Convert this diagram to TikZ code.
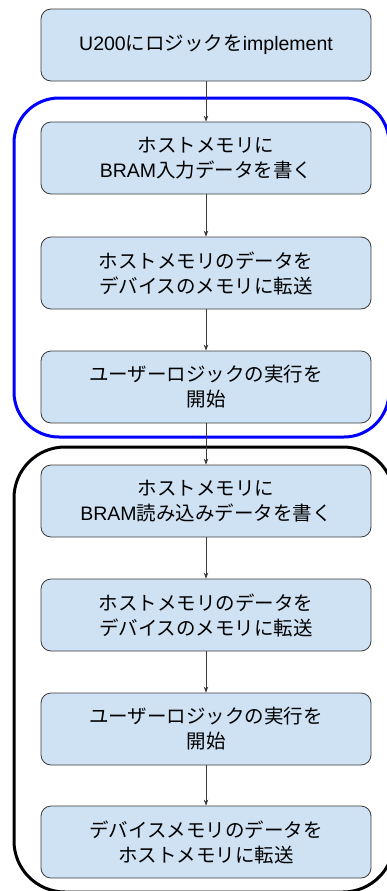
\documentclass[tikz,border=0pt]{standalone}
\usepackage{fontspec}
\setmainfont{Liberation Sans}
\newfontfamily\cjk{Noto Sans CJK JP}
\usetikzlibrary{arrows.meta}
\definecolor{boxfill}{HTML}{CFE2F3}
\definecolor{boxline}{HTML}{3A3A3A}
\begin{document}
\begin{tikzpicture}[x=1pt,y=-1pt,
  stepbox/.style={draw=boxline,line width=0.8pt,fill=boxfill,rounded corners=10pt,
    minimum width=330pt,minimum height=72pt,align=center,
    font=\fontsize{19.5}{25}\selectfont},
  flow/.style={draw=boxline,line width=0.7pt,-{Stealth[length=6pt,width=4.5pt]}},
  group/.style={line width=3pt}]
\useasboundingbox (0,0) rectangle (387,891);
\draw[group,draw=blue,rounded corners=45pt] (14,98) rectangle (389,437);
\draw[group,draw=black,rounded corners=51pt] (14,447) rectangle (394,892);
\node[stepbox] (b1) at (206,45) {U200{\cjk にロジックを}implement};
\node[stepbox] (b2) at (206,158) {{\cjk ホストメモリに}\\BRAM{\cjk 入力データを書く}};
\node[stepbox] (b3) at (206,273) {{\cjk ホストメモリのデータを}\\{\cjk デバイスのメモリに転送}};
\node[stepbox] (b4) at (206,387) {{\cjk ユーザーロジックの実行を}\\{\cjk 開始}};
\node[stepbox] (b5) at (206,501) {{\cjk ホストメモリに}\\BRAM{\cjk 読み込みデータを書く}};
\node[stepbox] (b6) at (206,615) {{\cjk ホストメモリのデータを}\\{\cjk デバイスのメモリに転送}};
\node[stepbox] (b7) at (206,729) {{\cjk ユーザーロジックの実行を}\\{\cjk 開始}};
\node[stepbox] (b8) at (206,842) {{\cjk デバイスメモリのデータを}\\{\cjk ホストメモリに転送}};
\foreach \a/\b in {b1/b2,b2/b3,b3/b4,b4/b5,b5/b6,b6/b7,b7/b8}
  \draw[flow] (\a) -- (\b);
\end{tikzpicture}
\end{document}
